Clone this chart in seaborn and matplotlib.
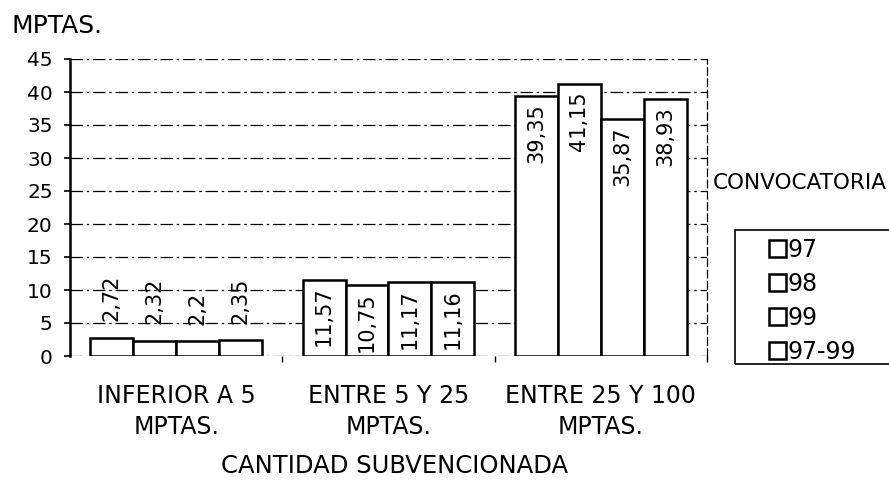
import pandas as pd
import matplotlib.pyplot as plt
import seaborn as sns
from matplotlib.patches import Rectangle

# datos
categorias = ["INFERIOR A 5\nMPTAS.", "ENTRE 5 Y 25\nMPTAS.", "ENTRE 25 Y 100\nMPTAS."]
convocatorias = ["97", "98", "99", "97-99"]
v97 = [2.72, 11.57, 39.35]
v98 = [2.32, 10.75, 41.15]
v99 = [2.2, 11.17, 35.87]
v9799 = [2.35, 11.16, 38.93]

rows = []
for conv, vals in zip(convocatorias, [v97, v98, v99, v9799]):
    for cat, v in zip(categorias, vals):
        rows.append({"cat": cat, "conv": conv, "valor": v})
df = pd.DataFrame(rows)

sns.set_style("white")
plt.rcParams["font.family"] = ["DejaVu Sans"]
plt.rcParams.update({"text.color": "black", "axes.labelcolor": "black",
                     "xtick.color": "black", "ytick.color": "black"})

W, H = 889, 484
fig = plt.figure(figsize=(W / 100, H / 100), dpi=100)
ax = fig.add_axes([70 / W, 1 - 356 / H, 637 / W, 297 / H])

sns.barplot(data=df, x="cat", y="valor", hue="conv", order=categorias,
            hue_order=convocatorias, palette=["white"] * 4, width=0.81,
            edgecolor="black", linewidth=1.8, saturation=1, ax=ax, zorder=3)

ax.set_ylim(0, 45)
ax.set_yticks(range(0, 46, 5))
ax.set_xlim(-0.5, 2.5)
ax.set_xticks([0.5, 1.5, 2.5], minor=True)
ax.grid(axis="y", color="black", linestyle=(0, (10, 3, 2, 3)), linewidth=0.9, zorder=0)
ax.set_axisbelow(True)
ax.spines["top"].set_visible(False)
ax.spines["bottom"].set_visible(False)
ax.spines["left"].set_color("black")
ax.spines["left"].set_linewidth(1.8)
ax.spines["right"].set_color("black")
ax.spines["right"].set_linewidth(0.9)
ax.spines["right"].set_linestyle((0, (6, 3)))
ax.tick_params(axis="y", left=True, length=4, width=1.2, color="black",
               labelsize=14.5, pad=8.5)
ax.tick_params(axis="x", which="major", bottom=False, labelsize=17, pad=17)
ax.tick_params(axis="x", which="minor", bottom=True, length=4, width=1, color="black")
ax.set_ylabel("")
ax.set_xlabel("CANTIDAD SUBVENCIONADA", fontsize=17.5)
ax.xaxis.set_label_coords(0.51, -0.33)
for t in ax.get_xticklabels():
    t.set_linespacing(1.32)

# etiquetas de valor rotadas
for cont in ax.containers:
    for bar in cont:
        h = bar.get_height()
        x = bar.get_x() + bar.get_width() / 2
        txt = f"{h:g}".replace(".", ",")
        if h > 8:
            ax.annotate(txt, (x, h), xytext=(0, -5), textcoords="offset points",
                        rotation=90, ha="center", va="top", fontsize=15, zorder=4)
        else:
            ax.annotate(txt, (x, h), xytext=(0, 12), textcoords="offset points",
                        rotation=90, ha="center", va="bottom", fontsize=15, zorder=4)

# caja de la leyenda (se sale por la derecha como en el original)
fig.patches.append(Rectangle((735 / W, 1 - 364 / H), 200 / W, 134 / H,
                             transform=fig.transFigure, fill=False,
                             edgecolor="black", linewidth=1.2))

handles, labels = ax.get_legend_handles_labels()
leg = ax.legend(handles, labels, loc="upper left", bbox_to_anchor=(769 / W, 1 - 238 / H),
                bbox_transform=fig.transFigure, frameon=False, fontsize=17,
                handlelength=0.7, handleheight=0.7, handletextpad=0.1,
                labelspacing=0.42, borderpad=0, borderaxespad=0)

fig.text(713 / W, 1 - 183 / H, "CONVOCATORIA", fontsize=15.5, va="center", ha="left")
fig.text(12 / W, 1 - 26 / H, "MPTAS.", fontsize=18, va="center", ha="left")

fig.savefig("out.png", dpi=100)
